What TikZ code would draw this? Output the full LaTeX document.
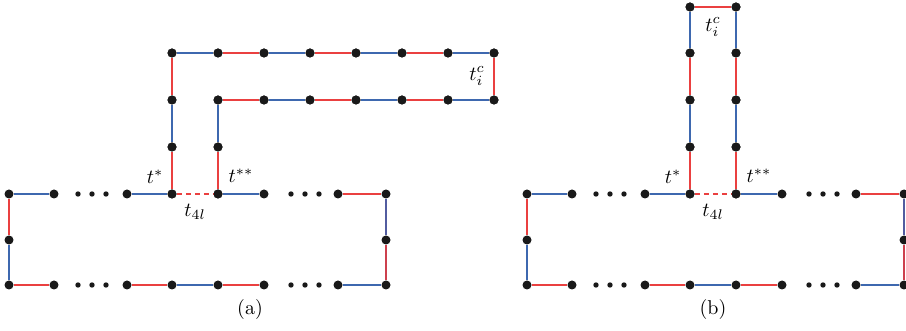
\documentclass[tikz,border=0pt]{standalone}
\usetikzlibrary{calc}
\definecolor{eb}{RGB}{62,104,175}
\definecolor{er}{RGB}{234,64,64}
\definecolor{ebp}{RGB}{82,92,160}
\definecolor{erd}{RGB}{205,64,78}
\tikzset{
  bl/.style={draw=eb,line width=1.25pt},
  rd/.style={draw=er,line width=1.25pt},
  blp/.style={draw=ebp,line width=1.25pt},
  rdd/.style={draw=erd,line width=1.25pt},
  rdash/.style={draw=er,line width=1.25pt,dash pattern=on 2.5pt off 2pt},
  dot/.style={circle,fill=black!90,inner sep=0pt,minimum size=4.5pt},
  sdot/.style={circle,fill=black!90,inner sep=0pt,minimum size=2.7pt},
  lab/.style={inner sep=0pt}
}
\newcommand{\basepart}[1]{%
  \node[dot] (#1a1) at (9,194) {};
  \node[dot] (#1a2) at (54,194) {};
  \node[dot] (#1a3) at (127,194) {};
  \node[dot] (#1a4) at (172,194) {};
  \node[dot] (#1a5) at (218,194) {};
  \node[dot] (#1a6) at (264,194) {};
  \node[dot] (#1a7) at (338,194) {};
  \node[dot] (#1a8) at (386,194) {};
  \node[dot] (#1b1) at (9,285) {};
  \node[dot] (#1b2) at (54,285) {};
  \node[dot] (#1b3) at (127,285) {};
  \node[dot] (#1b4) at (172,285) {};
  \node[dot] (#1b5) at (218,285) {};
  \node[dot] (#1b6) at (264,285) {};
  \node[dot] (#1b7) at (338,285) {};
  \node[dot] (#1b8) at (386,285) {};
  \node[dot] (#1ml) at (9,240) {};
  \node[dot] (#1mr) at (386,240) {};
  \foreach \xx/\k in {78/1,92/2,106/3,291/4,305/5,319/6}{
    \node[sdot] (#1da\k) at (\xx,194) {};
    \node[sdot] (#1db\k) at (\xx,285) {};
  }
  \draw[bl] (#1a1) -- (#1a2);
  \draw[bl] (#1a3) -- (#1a4);
  \draw[rdash] (#1a4) -- (#1a5);
  \draw[bl] (#1a5) -- (#1a6);
  \draw[rd] (#1a7) -- (#1a8);
  \draw[rd] (#1b1) -- (#1b2);
  \draw[rd] (#1b3) -- (#1b4);
  \draw[bl] (#1b4) -- (#1b5);
  \draw[rd] (#1b5) -- (#1b6);
  \draw[bl] (#1b7) -- (#1b8);
  \draw[rd] (#1a1) -- (#1ml);
  \draw[bl] (#1ml) -- (#1b1);
  \draw[blp] (#1a8) -- (#1mr);
  \draw[rdd] (#1mr) -- (#1b8);
  \node[lab] (#1ls) at (155,177) {$t^{*}$};
  \node[lab] (#1lss) at (241,176) {$t^{**}$};
  \node[lab] (#1lt) at (195,212) {$t_{4l}$};
}
\begin{document}
\begin{tikzpicture}[x=0.5pt,y=-0.5pt]
\useasboundingbox (0,0) rectangle (906,331);
% ---------- (a) ----------
\begin{scope}
  \node[dot] (c1) at (172,147) {};
  \node[dot] (c2) at (172,100) {};
  \node[dot] (c3) at (172,53) {};
  \foreach \k/\xx in {1/218,2/264,3/310,4/356,5/402,6/448,7/494}{
    \node[dot] (t\k) at (\xx,53) {};
  }
  \foreach \k/\xx in {1/218,2/264,3/310,4/356,5/402,6/448,7/494}{
    \node[dot] (u\k) at (\xx,100) {};
  }
  \node[dot] (d1) at (218,147) {};
  \basepart{}
  \draw[rd] (a4) -- (c1);
  \draw[bl] (c1) -- (c2);
  \draw[rd] (c2) -- (c3);
  \draw[bl] (c3) -- (t1);
  \draw[rd] (t1) -- (t2);
  \draw[bl] (t2) -- (t3);
  \draw[rd] (t3) -- (t4);
  \draw[bl] (t4) -- (t5);
  \draw[rd] (t5) -- (t6);
  \draw[bl] (t6) -- (t7);
  \draw[rd] (t7) -- (u7);
  \draw[bl] (u7) -- (u6);
  \draw[rd] (u6) -- (u5);
  \draw[bl] (u5) -- (u4);
  \draw[rd] (u4) -- (u3);
  \draw[bl] (u3) -- (u2);
  \draw[rd] (u2) -- (u1);
  \draw[bl] (u1) -- (d1);
  \draw[rd] (d1) -- (a5);
  \foreach \n in {c1,c2,c3,t1,t2,t3,t4,t5,t6,t7,u1,u2,u3,u4,u5,u6,u7,d1,a4,a5}{
    \node[dot] at (\n) {};
  }
  \node[lab] (ltc) at (477,76) {$t^{c}_{i}$};
  \node (capa) at (250,310) {(a)};
\end{scope}
% ---------- (b) ----------
\begin{scope}[shift={(518,0)}]
  \node[dot] (be1) at (172,147) {};
  \node[dot] (be2) at (172,100) {};
  \node[dot] (be3) at (172,53) {};
  \node[dot] (be4) at (172,7) {};
  \node[dot] (bf1) at (218,147) {};
  \node[dot] (bf2) at (218,100) {};
  \node[dot] (bf3) at (218,53) {};
  \node[dot] (bf4) at (218,7) {};
  \basepart{b}
  \draw[rd] (ba4) -- (be1);
  \draw[bl] (be1) -- (be2);
  \draw[rd] (be2) -- (be3);
  \draw[bl] (be3) -- (be4);
  \draw[rd] (be4) -- (bf4);
  \draw[bl] (bf4) -- (bf3);
  \draw[rd] (bf3) -- (bf2);
  \draw[bl] (bf2) -- (bf1);
  \draw[rd] (bf1) -- (ba5);
  \foreach \n in {be1,be2,be3,be4,bf1,bf2,bf3,bf4,ba4,ba5}{
    \node[dot] at (\n) {};
  }
  \node[lab] (bltc) at (195,27) {$t^{c}_{i}$};
  \node (capb) at (195,310) {(b)};
\end{scope}
\end{tikzpicture}
\end{document}
